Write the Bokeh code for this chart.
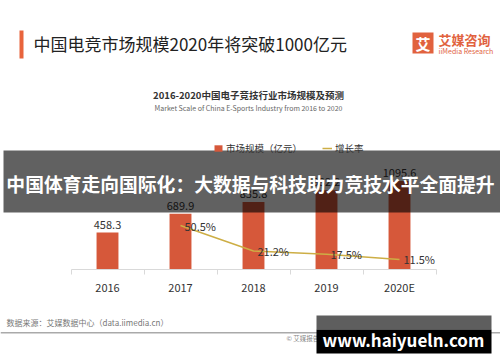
from bokeh.plotting import figure
from bokeh.layouts import column
from bokeh.embed import file_html
from bokeh.resources import INLINE
from bokeh.core.properties import value
from bokeh.models import (Range1d, FixedTicker, BoxAnnotation, Label, Legend,
                          LegendItem, ColumnDataSource)

# ---- data ----
categories = ["2016", "2017", "2018", "2019", "2020E"]
market_size = [458.3, 689.9, 835.8, 982.2, 1095.6]
growth_years = ["2017", "2018", "2019", "2020E"]
growth_rate = [50.5, 21.2, 17.5, 11.5]

title_text = "中国电竞市场规模2020年将突破1000亿元"
chart_title = "2016-2020中国电子竞技行业市场规模及预测"
chart_title_en = "Market Scale of China E-Sports Industry from 2016 to 2020"
legend_bar = "市场规模（亿元）"
legend_line = "增长率"
banner_text = "中国体育走向国际化：大数据与科技助力竞技水平全面提升"
source_text = "数据来源：艾媒数据中心（data.iimedia.cn）"
copyright_text = "© 艾媒报告中心 report.iimedia.cn ©2020 iiMedia Research Inc"
watermark_text = "www.haiyueln.com"

CJK = value("Noto Sans CJK SC")
BAR_COLOR = "#d6583a"
LINE_COLOR = "#cdae45"
ORANGE = "#e1623e"

xs = list(range(len(categories)))
bar_src = ColumnDataSource(dict(
    x=xs, v=market_size, lab=[f"{v:.1f}" for v in market_size]))
g_src = ColumnDataSource(dict(
    x=[categories.index(c) for c in growth_years], g=growth_rate,
    lab=[f"{g}%" for g in growth_rate]))

W = 500
TOP_H = 300
BASE = 269          # baseline y (page px)
step = 73.0
c0 = 107.0

p = figure(width=W, height=TOP_H,
           x_range=Range1d((0 - c0) / step, (W - c0) / step),
           y_range=Range1d(0, BASE / 0.0807),
           output_backend="svg", toolbar_location=None, y_axis_location=None,
           min_border_left=0, min_border_right=0, min_border_top=0,
           min_border_bottom=TOP_H - BASE, outline_line_color=None,
           background_fill_color="white", border_fill_color="white")
p.extra_x_ranges = {"px": Range1d(0, W)}
p.extra_y_ranges = {"py": Range1d(BASE, 0), "g": Range1d(0, BASE / 0.87)}
p.grid.visible = False

ax = p.xaxis[0]
ax.ticker = FixedTicker(ticks=xs, minor_ticks=[i - 0.5 for i in range(len(categories) + 1)])
ax.major_label_overrides = {i: c for i, c in enumerate(categories)}
ax.bounds = (-0.5, len(categories) - 0.5)
ax.axis_line_color = "#d9d9d9"
ax.major_tick_line_color = None
ax.major_tick_out = 0
ax.major_tick_in = 0
ax.minor_tick_line_color = "#d9d9d9"
ax.minor_tick_out = 5
ax.minor_tick_in = 0
ax.major_label_text_font = "Noto Sans CJK SC"
ax.major_label_text_font_size = "11px"
ax.major_label_text_color = "#333333"
ax.major_label_standoff = 4

bars = p.vbar(x="x", top="v", width=0.3, source=bar_src, fill_color=BAR_COLOR,
              line_color=None)
p.text(x="x", y="v", text="lab", source=bar_src, text_align="center",
       text_baseline="bottom", y_offset=-4, text_font_size="11px",
       text_color="#333333", text_font=CJK)
ln = p.line(x="x", y="g", source=g_src, y_range_name="g", line_color=LINE_COLOR,
            line_width=1.5)
p.text(x="x", y="g", text="lab", source=g_src, y_range_name="g", x_offset=4,
       text_align="left", text_baseline="middle", text_font_size="11px",
       text_color="#333333", text_font=CJK)

legend = Legend(items=[LegendItem(label=legend_bar, renderers=[bars]),
                       LegendItem(label=legend_line, renderers=[ln])],
                orientation="horizontal", location=(213, BASE - 155),
                padding=0, margin=0, spacing=20, label_standoff=3,
                glyph_width=10, glyph_height=8, label_height=12,
                label_text_font="Noto Sans CJK SC", label_text_font_size="9.5px",
                label_text_color="#333333", border_line_color=None,
                background_fill_alpha=0)
p.add_layout(legend, "center")

# footer figure (page y 300..362)
f = figure(width=W, height=362 - TOP_H, x_range=Range1d(0, W),
           y_range=Range1d(362, TOP_H), output_backend="svg",
           toolbar_location=None, x_axis_location=None, y_axis_location=None,
           min_border=0, outline_line_color=None,
           background_fill_color="white", border_fill_color="white")
f.grid.visible = False


def px_label(fig, x, y, text, size, color, align="left", style="normal",
             level="annotation", ranges=True):
    kw = dict(x_range_name="px", y_range_name="py") if ranges else {}
    lab = Label(x=x, y=y, text=text, text_align=align, text_baseline="middle",
                text_font="Noto Sans CJK SC", text_font_size=size,
                text_color=color, text_font_style=style, level=level, **kw)
    fig.add_layout(lab)
    return lab


def px_box(fig, left, right, top, bottom, color, alpha=1.0, level="annotation",
           ranges=True):
    kw = dict(x_range_name="px", y_range_name="py") if ranges else {}
    b = BoxAnnotation(left=left, right=right, top=top, bottom=bottom,
                      fill_color=color, fill_alpha=alpha, line_color=None,
                      level=level, **kw)
    fig.add_layout(b)
    return b


# header
px_box(p, 19, 23, 30, 58, "#e8643c")
px_label(p, 33, 43, title_text, "17px", "#222222")
px_box(p, 412, 433, 32, 53, ORANGE)
px_label(p, 422.5, 42.5, "艾", "15px", "white", align="center", style="bold")
px_label(p, 438, 39, "艾媒咨询", "13px", ORANGE, style="bold")
px_label(p, 438, 50, "iiMedia Research", "7px", ORANGE)
px_label(p, 248, 94, chart_title, "9.5px", "#333333", align="center", style="bold")
px_label(p, 248, 107, chart_title_en, "7px", "#666666", align="center")

# banner overlay
px_box(p, 3, W, 150, 212, "black", alpha=0.62, level="overlay")
px_label(p, 250, 183, banner_text, "18.8px", "white", align="center", style="bold",
         level="overlay")

# footer
px_label(f, 6, 322, source_text, "8px", "#777777", ranges=False)
px_box(f, 0, W, 331.5, 333, "#aaaaaa", ranges=False)
px_label(f, 286, 337, copyright_text, "6.5px", "#888888", ranges=False)
px_box(f, 316, 491, 315, 329, "#5e5e5e", level="overlay", ranges=False)
px_box(f, 316, 491, 329, 353, "#000000", level="overlay", ranges=False)
px_label(f, 403, 339, watermark_text, "17px", "white", align="center", style="bold",
         level="overlay", ranges=False)

layout = column(p, f, spacing=0)
open("out.html", "w").write(file_html(layout, INLINE))
